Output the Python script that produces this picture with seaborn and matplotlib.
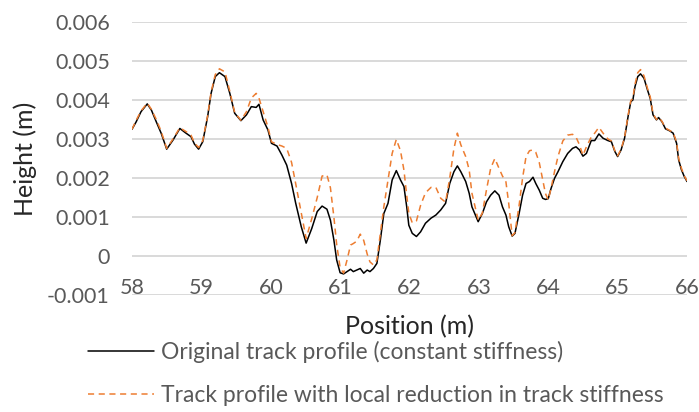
## Track profile: original vs. reduced stiffness

import numpy as np
import pandas as pd
import seaborn as sns
import matplotlib.pyplot as plt

# position along the track (m)
position = [58.00, 58.06, 58.13, 58.22, 58.28, 58.35, 58.42, 58.50, 58.59, 58.69,
            58.77, 58.85, 58.90, 58.96, 59.02, 59.09, 59.14, 59.20, 59.26, 59.34,
            59.41, 59.48, 59.57, 59.65, 59.72, 59.79, 59.83, 59.89, 59.96, 60.01,
            60.09, 60.16, 60.23, 60.30, 60.36, 60.44, 60.51, 60.59, 60.67, 60.74,
            60.81, 60.86, 60.91, 60.95, 61.00, 61.05, 61.10, 61.15, 61.19, 61.24,
            61.29, 61.34, 61.39, 61.43, 61.48, 61.53, 61.58, 61.63, 61.69, 61.75,
            61.81, 61.87, 61.92, 61.96, 61.99, 62.04, 62.10, 62.16, 62.23, 62.31,
            62.38, 62.45, 62.52, 62.58, 62.64, 62.69, 62.74, 62.81, 62.86, 62.90,
            62.99, 63.05, 63.11, 63.17, 63.23, 63.29, 63.34, 63.39, 63.43, 63.48,
            63.52, 63.58, 63.63, 63.68, 63.73, 63.78, 63.82, 63.87, 63.92, 63.96,
            64.00, 64.04, 64.09, 64.14, 64.21, 64.28, 64.35, 64.40, 64.45, 64.50,
            64.55, 64.62, 64.67, 64.73, 64.79, 64.86, 64.91, 64.96, 65.00, 65.05,
            65.10, 65.15, 65.19, 65.22, 65.25, 65.29, 65.33, 65.38, 65.43, 65.47,
            65.51, 65.56, 65.59, 65.64, 65.69, 65.75, 65.80, 65.85, 65.88, 65.92,
            65.96, 66.00]

# height (m), constant stiffness
height_original = [0.00325, 0.00344, 0.00370, 0.00390, 0.00374, 0.00344, 0.00315, 0.00274, 0.00297, 0.00327,
                   0.00316, 0.00306, 0.00287, 0.00274, 0.00293, 0.00357, 0.00417, 0.00460, 0.00470, 0.00460,
                   0.00417, 0.00366, 0.00347, 0.00362, 0.00383, 0.00381, 0.00389, 0.00349, 0.00323, 0.00289,
                   0.00282, 0.00259, 0.00233, 0.00186, 0.00135, 0.00075, 0.00033, 0.00070, 0.00114, 0.00128,
                   0.00120, 0.00092, 0.00041, -0.00010, -0.00043, -0.00046, -0.00040, -0.00034, -0.00040, -0.00036,
                   -0.00032, -0.00044, -0.00036, -0.00040, -0.00032, -0.00019, 0.00041, 0.00109, 0.00135, 0.00195,
                   0.00219, 0.00195, 0.00178, 0.00126, 0.00079, 0.00058, 0.00050, 0.00062, 0.00084, 0.00097,
                   0.00105, 0.00118, 0.00135, 0.00186, 0.00216, 0.00231, 0.00216, 0.00191, 0.00161, 0.00126,
                   0.00088, 0.00109, 0.00139, 0.00156, 0.00167, 0.00156, 0.00126, 0.00105, 0.00075, 0.00051,
                   0.00058, 0.00109, 0.00156, 0.00186, 0.00191, 0.00202, 0.00186, 0.00169, 0.00148, 0.00145,
                   0.00147, 0.00173, 0.00199, 0.00216, 0.00242, 0.00263, 0.00276, 0.00280, 0.00272, 0.00256,
                   0.00263, 0.00296, 0.00296, 0.00313, 0.00302, 0.00296, 0.00293, 0.00268, 0.00255, 0.00272,
                   0.00302, 0.00357, 0.00396, 0.00400, 0.00434, 0.00460, 0.00467, 0.00456, 0.00426, 0.00404,
                   0.00362, 0.00349, 0.00355, 0.00344, 0.00326, 0.00321, 0.00315, 0.00289, 0.00246, 0.00221,
                   0.00204, 0.00191]

# height (m), local reduction in stiffness
height_reduced = [0.00325, 0.00348, 0.00372, 0.00392, 0.00376, 0.00350, 0.00320, 0.00276, 0.00300, 0.00329,
                  0.00320, 0.00310, 0.00290, 0.00278, 0.00296, 0.00360, 0.00420, 0.00465, 0.00480, 0.00472,
                  0.00422, 0.00368, 0.00348, 0.00370, 0.00405, 0.00417, 0.00405, 0.00370, 0.00330, 0.00293,
                  0.00286, 0.00282, 0.00276, 0.00240, 0.00185, 0.00110, 0.00045, 0.00095, 0.00150, 0.00205,
                  0.00208, 0.00175, 0.00100, 0.00030, -0.00030, -0.00044, -0.00010, 0.00028, 0.00032, 0.00038,
                  0.00056, 0.00040, 0.00005, -0.00015, -0.00023, -0.00010, 0.00058, 0.00126, 0.00195, 0.00263,
                  0.00299, 0.00270, 0.00220, 0.00155, 0.00110, 0.00085, 0.00090, 0.00130, 0.00162, 0.00176,
                  0.00176, 0.00148, 0.00138, 0.00200, 0.00275, 0.00315, 0.00285, 0.00255, 0.00221, 0.00161,
                  0.00092, 0.00110, 0.00170, 0.00225, 0.00250, 0.00225, 0.00205, 0.00190, 0.00135, 0.00052,
                  0.00060, 0.00130, 0.00200, 0.00255, 0.00270, 0.00272, 0.00266, 0.00240, 0.00195, 0.00160,
                  0.00144, 0.00173, 0.00216, 0.00255, 0.00295, 0.00310, 0.00312, 0.00305, 0.00285, 0.00258,
                  0.00280, 0.00305, 0.00315, 0.00330, 0.00315, 0.00300, 0.00295, 0.00270, 0.00257, 0.00274,
                  0.00304, 0.00360, 0.00398, 0.00405, 0.00440, 0.00470, 0.00478, 0.00462, 0.00430, 0.00408,
                  0.00365, 0.00350, 0.00356, 0.00345, 0.00328, 0.00322, 0.00317, 0.00292, 0.00250, 0.00225,
                  0.00206, 0.00193]

x_ticks = [58, 59, 60, 61, 62, 63, 64, 65, 66]
y_ticks = [-0.001, 0, 0.001, 0.002, 0.003, 0.004, 0.005, 0.006]
y_ticklabels = ["-0.001", "0", "0.001", "0.002", "0.003", "0.004", "0.005", "0.006"]

label_original = "Original track profile (constant stiffness)"
label_reduced = "Track profile with local reduction in track stiffness"

df = pd.DataFrame({"Position": position,
                   "Original": height_original,
                   "Reduced": height_reduced})

sns.set_style("white")
plt.rcParams["font.family"] = ["Lato", "DejaVu Sans"]
text_col = "#595959"

fig = plt.figure(figsize=(6.99, 4.12), dpi=100)
ax = fig.add_axes([132/699, 1 - 295/412, 555/699, 273/412])

sns.lineplot(data=df, x="Position", y="Original", ax=ax, color="black",
             linewidth=1.1, label=label_original, legend=False)
sns.lineplot(data=df, x="Position", y="Reduced", ax=ax, color="#ED7D31",
             linewidth=1.1, linestyle=(0, (4, 3)), label=label_reduced, legend=False)

ax.set_xlim(58, 66)
ax.set_ylim(-0.001, 0.006)
ax.set_xticks(x_ticks)
ax.set_yticks(y_ticks)
ax.set_yticklabels(y_ticklabels)
ax.grid(axis="y", color="#d9d9d9", linewidth=1.4)
ax.grid(axis="x", visible=False)
for s in ax.spines.values():
    s.set_visible(False)

ax.tick_params(axis="x", length=0, pad=-12, labelsize=15.5, labelcolor=text_col)
ax.tick_params(axis="y", length=0, pad=16, labelsize=15.5, labelcolor=text_col)

ax.set_xlabel("Position (m)", fontsize=18, color="#262626")
ax.xaxis.set_label_coords(0.5, -0.072)
ax.set_ylabel("Height (m)", fontsize=18, color="#262626")
ax.yaxis.set_label_coords(-0.171, 0.5)

handles, labels = ax.get_legend_handles_labels()
fig.legend(handles, labels, loc="upper left", bbox_to_anchor=(88/699, 1 - 341/412),
           frameon=False, fontsize=16.5, handlelength=2.9, handletextpad=0.3,
           labelspacing=0.95, borderpad=0, borderaxespad=0, labelcolor=text_col)

plt.savefig("out.png", dpi=100)
